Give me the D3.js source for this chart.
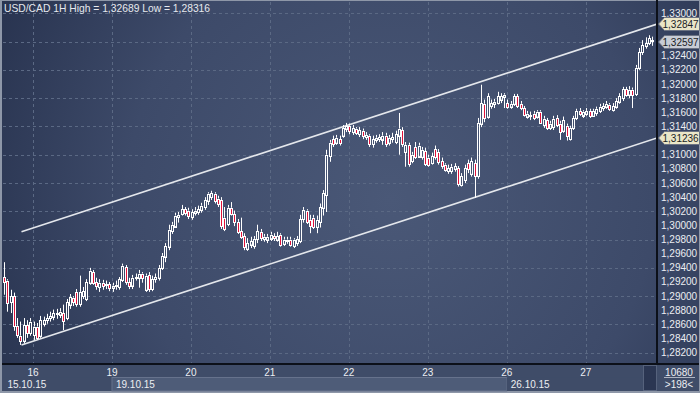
<!DOCTYPE html>
<html>
<head>
<meta charset="utf-8">
<script src="https://cdn.jsdelivr.net/npm/d3@7"></script>
<style>
  body { margin: 0; background: #8e97a8; }
  svg { display: block; font-family: "Liberation Sans", Arial, sans-serif; }
</style>
</head>
<body>
<div id="chart"></div>
<script>
// USD/CAD 1H candles, 15.10.15 - 27.10.15 (198 bars)
var opens = [
1.2927,1.2922,1.2891,1.2900,1.2858,1.2844,1.2837,1.2859,1.2848,1.2845,
1.2857,1.2844,1.2861,1.2866,1.2869,1.2871,1.2876,1.2874,1.2876,1.2869,
1.2888,1.2898,1.2906,1.2889,1.2900,1.2896,1.2919,1.2934,1.2920,1.2913,
1.2919,1.2915,1.2917,1.2912,1.2915,1.2913,1.2923,1.2941,1.2920,1.2915,
1.2926,1.2926,1.2932,1.2909,1.2930,1.2910,1.2924,1.2926,1.2940,1.2956,
1.2970,1.2992,1.2999,1.3012,1.3016,1.3023,1.3021,1.3012,1.3018,1.3019,
1.3022,1.3026,1.3035,1.3040,1.3045,1.3038,1.3036,1.3011,1.3002,1.3025,
1.3016,1.3005,1.2992,1.2985,1.2967,1.2973,1.2971,1.2980,1.2991,1.2981,
1.2980,1.2982,1.2985,1.2980,1.2987,1.2974,1.2978,1.2980,1.2971,1.2975,
1.2978,1.3009,1.3021,1.3008,1.3011,1.2998,1.3005,1.3025,1.3043,1.3098,
1.3122,1.3117,1.3122,1.3127,1.3137,1.3141,1.3132,1.3137,1.3129,1.3134,
1.3125,1.3127,1.3115,1.3121,1.3122,1.3122,1.3127,1.3117,1.3122,1.3118,
1.3127,1.3135,1.3104,1.3114,1.3091,1.3111,1.3098,1.3097,1.3105,1.3096,
1.3088,1.3108,1.3104,1.3091,1.3086,1.3077,1.3077,1.3080,1.3081,1.3057,
1.3064,1.3088,1.3073,1.3088,1.3070,1.3144,1.3172,1.3154,1.3169,1.3172,
1.3173,1.3178,1.3182,1.3173,1.3168,1.3172,1.3183,1.3172,1.3166,1.3154,
1.3154,1.3158,1.3154,1.3161,1.3142,1.3149,1.3138,1.3139,1.3152,1.3144,
1.3134,1.3141,1.3122,1.3138,1.3152,1.3162,1.3156,1.3158,1.3162,1.3155,
1.3159,1.3162,1.3166,1.3168,1.3171,1.3163,1.3168,1.3175,1.3180,1.3193,
1.3185,1.3192,1.3186,1.3223,1.3245,1.3254,1.3258,1.3262
];
var highs = [
1.2948,1.2924,1.2909,1.2905,1.2869,1.2864,1.2869,1.2866,1.2869,1.2864,
1.2862,1.2872,1.2871,1.2875,1.2878,1.2881,1.2882,1.2883,1.2888,1.2896,
1.2903,1.2900,1.2910,1.2929,1.2913,1.2924,1.2940,1.2937,1.2926,1.2924,
1.2923,1.2922,1.2920,1.2919,1.2922,1.2927,1.2946,1.2944,1.2926,1.2930,
1.2932,1.2937,1.2934,1.2932,1.2934,1.2929,1.2932,1.2944,1.2961,1.2975,
1.3001,1.3005,1.3018,1.3019,1.3029,1.3026,1.3025,1.3023,1.3026,1.3028,
1.3032,1.3040,1.3047,1.3049,1.3047,1.3042,1.3040,1.3026,1.3029,1.3033,
1.3021,1.3009,1.3011,1.2989,1.2982,1.2984,1.2985,1.3001,1.2995,1.2988,
1.2988,1.2991,1.2989,1.2991,1.2989,1.2984,1.2984,1.2984,1.2982,1.2985,
1.3015,1.3026,1.3023,1.3015,1.3015,1.3014,1.3031,1.3050,1.3107,1.3121,
1.3127,1.3128,1.3127,1.3142,1.3145,1.3144,1.3142,1.3139,1.3139,1.3137,
1.3132,1.3129,1.3127,1.3128,1.3129,1.3132,1.3131,1.3128,1.3131,1.3134,
1.3159,1.3139,1.3118,1.3117,1.3104,1.3118,1.3117,1.3111,1.3110,1.3100,
1.3103,1.3113,1.3108,1.3096,1.3088,1.3086,1.3087,1.3088,1.3084,1.3074,
1.3086,1.3093,1.3096,1.3093,1.3152,1.3199,1.3178,1.3187,1.3178,1.3179,
1.3189,1.3187,1.3187,1.3178,1.3176,1.3186,1.3186,1.3176,1.3169,1.3162,
1.3161,1.3162,1.3163,1.3163,1.3155,1.3152,1.3148,1.3155,1.3156,1.3148,
1.3154,1.3144,1.3141,1.3155,1.3165,1.3166,1.3163,1.3166,1.3165,1.3165,
1.3168,1.3172,1.3173,1.3176,1.3173,1.3173,1.3180,1.3187,1.3196,1.3196,
1.3197,1.3195,1.3227,1.3251,1.3262,1.3266,1.3269,1.3267
];
var lows = [
1.2902,1.2878,1.2876,1.2851,1.2841,1.2831,1.2833,1.2841,1.2844,1.2838,
1.2838,1.2841,1.2857,1.2861,1.2864,1.2866,1.2868,1.2869,1.2852,1.2866,
1.2882,1.2886,1.2885,1.2885,1.2896,1.2893,1.2916,1.2916,1.2909,1.2906,
1.2909,1.2910,1.2907,1.2906,1.2909,1.2909,1.2920,1.2916,1.2910,1.2910,
1.2922,1.2912,1.2919,1.2906,1.2906,1.2907,1.2919,1.2922,1.2937,1.2948,
1.2965,1.2988,1.2997,1.3004,1.3014,1.3014,1.3009,1.3008,1.3014,1.3015,
1.3018,1.3022,1.3029,1.3036,1.3031,1.3026,1.2995,1.2992,1.2999,1.3014,
1.2999,1.2988,1.2981,1.2965,1.2964,1.2968,1.2967,1.2975,1.2978,1.2977,
1.2975,1.2978,1.2978,1.2977,1.2970,1.2971,1.2974,1.2970,1.2968,1.2971,
1.2975,1.3004,1.3002,1.2989,1.2995,1.2989,1.2997,1.3014,1.3019,1.3090,
1.3111,1.3114,1.3113,1.3124,1.3132,1.3129,1.3128,1.3128,1.3125,1.3122,
1.3121,1.3111,1.3110,1.3117,1.3118,1.3114,1.3111,1.3113,1.3117,1.3115,
1.3100,1.3111,1.3083,1.3083,1.3088,1.3094,1.3096,1.3093,1.3084,1.3083,
1.3086,1.3093,1.3086,1.3080,1.3076,1.3073,1.3073,1.3076,1.3055,1.3055,
1.3060,1.3074,1.3069,1.3039,1.3066,1.3139,1.3146,1.3151,1.3165,1.3166,
1.3171,1.3173,1.3166,1.3165,1.3165,1.3169,1.3166,1.3163,1.3154,1.3151,
1.3149,1.3149,1.3151,1.3144,1.3138,1.3135,1.3135,1.3135,1.3139,1.3121,
1.3131,1.3120,1.3120,1.3135,1.3149,1.3155,1.3152,1.3155,1.3152,1.3154,
1.3155,1.3159,1.3162,1.3165,1.3162,1.3161,1.3165,1.3172,1.3176,1.3182,
1.3180,1.3166,1.3183,1.3220,1.3241,1.3250,1.3255,1.3254
];
var closes = [
1.2920,1.2891,1.2900,1.2857,1.2845,1.2837,1.2859,1.2848,1.2864,1.2857,
1.2842,1.2866,1.2866,1.2869,1.2872,1.2876,1.2874,1.2878,1.2865,1.2891,
1.2899,1.2892,1.2889,1.2906,1.2907,1.2920,1.2936,1.2919,1.2915,1.2919,
1.2915,1.2917,1.2912,1.2915,1.2916,1.2924,1.2943,1.2920,1.2915,1.2926,
1.2927,1.2932,1.2926,1.2929,1.2910,1.2924,1.2927,1.2940,1.2957,1.2971,
1.2994,1.3001,1.3014,1.3015,1.3023,1.3018,1.3014,1.3019,1.3021,1.3023,
1.3028,1.3036,1.3045,1.3046,1.3035,1.3031,1.2999,1.2995,1.3025,1.3016,
1.3004,1.2991,1.2984,1.2970,1.2975,1.2978,1.2981,1.2992,1.2982,1.2984,
1.2984,1.2987,1.2982,1.2985,1.2973,1.2980,1.2980,1.2973,1.2980,1.2981,
1.3009,1.3022,1.3006,1.2999,1.2998,1.3008,1.3026,1.3046,1.3100,1.3117,
1.3115,1.3124,1.3117,1.3138,1.3141,1.3134,1.3138,1.3131,1.3135,1.3127,
1.3128,1.3115,1.3122,1.3124,1.3125,1.3127,1.3115,1.3124,1.3125,1.3129,
1.3137,1.3115,1.3114,1.3087,1.3100,1.3097,1.3113,1.3107,1.3087,1.3086,
1.3098,1.3096,1.3090,1.3084,1.3079,1.3081,1.3083,1.3084,1.3059,1.3070,
1.3081,1.3079,1.3091,1.3070,1.3145,1.3173,1.3152,1.3183,1.3173,1.3175,
1.3183,1.3183,1.3185,1.3168,1.3172,1.3183,1.3169,1.3166,1.3156,1.3158,
1.3156,1.3152,1.3161,1.3146,1.3151,1.3138,1.3144,1.3151,1.3142,1.3132,
1.3149,1.3127,1.3138,1.3152,1.3162,1.3158,1.3161,1.3162,1.3155,1.3162,
1.3165,1.3168,1.3169,1.3172,1.3165,1.3169,1.3176,1.3183,1.3193,1.3185,
1.3192,1.3185,1.3223,1.3245,1.3255,1.3258,1.3265,1.3260
];

// time axis: first bar of each day, and week boxes
var dayLabels = ["16", "19", "20", "21", "22", "23", "26", "27"];
var dayStarts = [9, 33, 57, 81, 105, 129, 153, 177];
var weekLabels = ["15.10.15", "19.10.15", "26.10.15"];
var weekStarts = [0, 33, 153];

// price axis
var yTicks = [1.282, 1.284, 1.286, 1.288, 1.290, 1.292, 1.294, 1.296, 1.298, 1.300,
              1.302, 1.304, 1.306, 1.308, 1.310, 1.312, 1.314, 1.316, 1.318, 1.320,
              1.322, 1.324, 1.326, 1.328, 1.330];
var yGrid = [1.282, 1.286, 1.290, 1.294, 1.298, 1.302, 1.306, 1.310, 1.314, 1.318, 1.322, 1.326, 1.330];

// channel: start bar, price at start and price at the right edge
var channelStart = 5;
var upperChannel = [1.2991, 1.32847];
var lowerChannel = [1.2831, 1.31236];

// price tags on the right axis
var tagValues = [1.32847, 1.32597, 1.31236];
var tagColors = ["#ebe6c8", "#c8ccd5", "#ebe6c8"];

var titleText = "USD/CAD 1H High = 1,32689 Low = 1,28316";
var volumeText = "10680";
var barsText = ">198<";

var W = 700, H = 393;
var plot = {left: 3, right: 657, top: 2, bottom: 364};

var svg = d3.select("#chart").append("svg")
    .attr("width", W)
    .attr("height", H);

var defs = svg.append("defs");
var grad = defs.append("radialGradient")
    .attr("id", "bg")
    .attr("gradientUnits", "userSpaceOnUse")
    .attr("cx", 390).attr("cy", 200).attr("r", 440);
grad.append("stop").attr("offset", "0%").attr("stop-color", "#4a5877");
grad.append("stop").attr("offset", "60%").attr("stop-color", "#3d4a69");
grad.append("stop").attr("offset", "100%").attr("stop-color", "#28334f");

defs.append("clipPath").attr("id", "clip")
  .append("rect")
    .attr("x", plot.left).attr("y", plot.top)
    .attr("width", plot.right - plot.left).attr("height", plot.bottom - plot.top);

// backgrounds
svg.append("rect").attr("x", 2).attr("y", 1).attr("width", 697).attr("height", plot.bottom - 1)
    .attr("fill", "url(#bg)");
svg.append("rect").attr("x", 2).attr("y", plot.bottom).attr("width", 697).attr("height", 27)
    .attr("fill", "#3f4c68");

// scales
var x = d3.scaleLinear().domain([-0.5, 197.5]).range([3.4, 654.8]);
var y = d3.scaleLinear().domain([1.282, 1.330]).range([352.7, 13.3]);

// grid
var grid = svg.append("g").attr("stroke", "#5b6984").attr("stroke-dasharray", "3,3").attr("stroke-width", 1);
grid.selectAll(".hg").data(yGrid).enter().append("line")
    .attr("x1", plot.left).attr("x2", plot.right)
    .attr("y1", function(d) { return Math.round(y(d)) + 0.5; })
    .attr("y2", function(d) { return Math.round(y(d)) + 0.5; });
grid.selectAll(".vg").data(dayStarts).enter().append("line")
    .attr("y1", plot.top).attr("y2", plot.bottom)
    .attr("x1", function(d) { return Math.round(x(d - 0.5)) + 0.5; })
    .attr("x2", function(d) { return Math.round(x(d - 0.5)) + 0.5; });

var g = svg.append("g").attr("clip-path", "url(#clip)");

// channel lines
var xEnd = x.invert(plot.right);
[upperChannel, lowerChannel].forEach(function(c) {
  g.append("line")
      .attr("x1", x(channelStart)).attr("y1", y(c[0]))
      .attr("x2", x(xEnd)).attr("y2", y(c[1]))
      .attr("stroke", "#e4e7ec").attr("stroke-width", 1.6);
});

// candles
var idx = d3.range(opens.length);
var cx = function(i) { return Math.round(x(i)); };
var candles = g.selectAll(".c").data(idx).enter().append("g");
candles.append("line")
    .attr("x1", function(i) { return cx(i) - 0.5; })
    .attr("x2", function(i) { return cx(i) - 0.5; })
    .attr("y1", function(i) { return y(highs[i]); })
    .attr("y2", function(i) { return y(Math.max(opens[i], closes[i])); })
    .attr("stroke", "#ffffff").attr("stroke-width", 1);
candles.append("line")
    .attr("x1", function(i) { return cx(i) - 0.5; })
    .attr("x2", function(i) { return cx(i) - 0.5; })
    .attr("y1", function(i) { return y(Math.min(opens[i], closes[i])); })
    .attr("y2", function(i) { return y(lows[i]); })
    .attr("stroke", "#ffffff").attr("stroke-width", 1);
candles.append("rect")
    .attr("x", function(i) { return cx(i) - 1.5; })
    .attr("width", 2)
    .attr("y", function(i) { return Math.round(y(Math.max(opens[i], closes[i]))) + 0.5; })
    .attr("height", function(i) {
      return Math.max(1, Math.round(Math.abs(y(opens[i]) - y(closes[i]))));
    })
    .attr("fill", function(i) { return closes[i] < opens[i] ? "#e0123a" : "none"; })
    .attr("stroke", "#ffffff").attr("stroke-width", 1);

// axis lines
svg.append("line").attr("x1", plot.right).attr("x2", plot.right).attr("y1", 0).attr("y2", plot.bottom)
    .attr("stroke", "#0c1019").attr("stroke-width", 2);
svg.append("line").attr("x1", 2).attr("x2", 699).attr("y1", plot.bottom).attr("y2", plot.bottom)
    .attr("stroke", "#0c1019").attr("stroke-width", 2);

// y labels (hidden where a tag sits)
var fmt = function(v) { return v.toFixed(5).replace(".", ","); };
svg.append("g").selectAll("text")
    .data(yTicks.filter(function(t) {
      return !tagValues.some(function(v) { return Math.abs(v - t) < 0.0015; });
    }))
    .enter().append("text")
    .attr("x", 661)
    .attr("y", function(d) { return y(d); })
    .attr("dy", "0.35em")
    .attr("fill", "#eceef2")
    .style("font-size", "10px")
    .text(fmt);

// price tags
var tags = svg.append("g").selectAll("g").data(tagValues).enter().append("g")
    .attr("transform", function(d) { return "translate(0," + Math.round(y(d)) + ")"; });
tags.append("path")
    .attr("d", "M658.5,0 L664.5,-6.5 L699.5,-6.5 L699.5,6.5 L664.5,6.5 Z")
    .attr("fill", function(d, i) { return tagColors[i]; })
    .attr("stroke", "#6b7282").attr("stroke-width", 1);
tags.append("text")
    .attr("x", 662.5).attr("dy", "0.35em")
    .attr("fill", "#1a1d24")
    .style("font-size", "10px")
    .text(fmt);

// title
svg.append("text")
    .attr("x", 4).attr("y", 8).attr("dy", "0.35em")
    .attr("fill", "#e6e9ee")
    .style("font-size", "10.3px")
    .text(titleText);

// time axis
var xa = svg.append("g");
var weekEnds = weekStarts.slice(1).concat([x.invert(643) + 0.5]);
xa.selectAll("rect").data(weekStarts).enter().append("rect")
    .attr("x", function(d) { return Math.max(plot.left, x(d - 0.5)); })
    .attr("y", 377.5)
    .attr("width", function(d, i) { return x(weekEnds[i] - 0.5) - Math.max(plot.left, x(d - 0.5)); })
    .attr("height", 13.5)
    .attr("fill", function(d, i) { return i === 1 ? "#4e5c78" : "#3f4c68"; })
    .attr("stroke", function(d, i) { return i === 1 ? "#66728c" : "none"; });
xa.selectAll(".day").data(dayStarts).enter().append("text")
    .attr("x", function(d) { return x(d - 0.5); })
    .attr("y", 372).attr("dy", "0.35em")
    .attr("text-anchor", "middle")
    .attr("fill", "#eceef2")
    .style("font-size", "10px")
    .text(function(d, i) { return dayLabels[i]; });
xa.selectAll(".wk").data(weekStarts).enter().append("text")
    .attr("x", function(d) { return Math.max(plot.left, x(d - 0.5)) + 4; })
    .attr("y", 384).attr("dy", "0.35em")
    .attr("fill", "#eceef2")
    .style("font-size", "10px")
    .text(function(d, i) { return weekLabels[i]; });

// scroll thumb
svg.append("rect").attr("x", 643.5).attr("y", 365.5).attr("width", 13).attr("height", 25)
    .attr("fill", "#2b3652").attr("stroke", "#56627c");

// right bottom panel
svg.append("text").attr("x", 679).attr("y", 372).attr("dy", "0.35em")
    .attr("text-anchor", "middle").attr("fill", "#eceef2").style("font-size", "10px")
    .text(volumeText);
svg.append("line").attr("x1", 664).attr("x2", 695).attr("y1", 377.5).attr("y2", 377.5)
    .attr("stroke", "#aeb4c2");
svg.append("text").attr("x", 679).attr("y", 384).attr("dy", "0.35em")
    .attr("text-anchor", "middle").attr("fill", "#eceef2").style("font-size", "10px")
    .text(barsText);
</script>
</body>
</html>
